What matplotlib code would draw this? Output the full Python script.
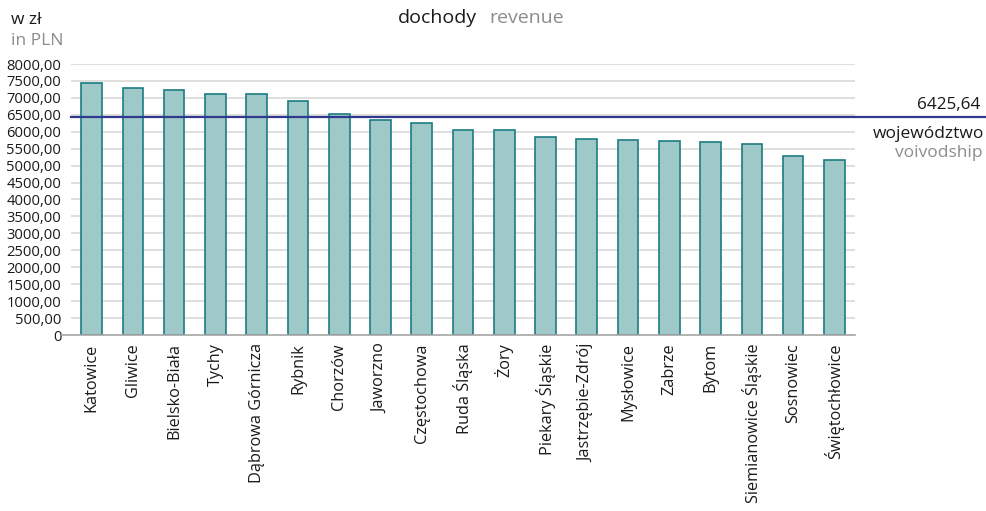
import matplotlib
matplotlib.use("Agg")
import matplotlib.pyplot as plt
from matplotlib.lines import Line2D
from matplotlib.ticker import FixedLocator

plt.rcParams['font.family'] = ['Open Sans', 'DejaVu Sans']

cities = ["Katowice", "Gliwice", "Bielsko-Biała", "Tychy", "Dąbrowa Górnicza", "Rybnik",
          "Chorzów", "Jaworzno", "Częstochowa", "Ruda Śląska", "Żory", "Piekary Śląskie",
          "Jastrzębie-Zdrój", "Mysłowice", "Zabrze", "Bytom", "Siemianowice Śląskie",
          "Sosnowiec", "Świętochłowice"]
revenue = [7430, 7283, 7232, 7124, 7114, 6908, 6524, 6347, 6258, 6061, 6052, 5835,
           5776, 5756, 5737, 5688, 5638, 5284, 5157]
voivodship_avg = 6425.64
y_ticks = [0, 500, 1000, 1500, 2000, 2500, 3000, 3500, 4000, 4500, 5000, 5500,
           6000, 6500, 7000, 7500, 8000]

W, H = 987, 511
fig = plt.figure(figsize=(W / 100, H / 100), dpi=100)
ax = fig.add_axes([71 / W, 1 - 335 / H, (855 - 71) / W, (335 - 64) / H])

x = list(range(len(cities)))
ax.bar(x, revenue, width=0.5, color="#9fc9c9", edgecolor="#1b7b82", linewidth=1.2, zorder=3)

ax.set_xlim(-0.5, len(cities) - 0.5)
ax.set_ylim(0, 8000)
ax.yaxis.set_major_locator(FixedLocator(y_ticks))
ax.set_yticklabels(["0" if v == 0 else f"{v},00" for v in y_ticks], fontsize=10.6, color="#1a1a1a")
ax.set_xticks(x)
ax.set_xticklabels(cities, rotation=90, fontsize=11.7, color="#1a1a1a")
ax.tick_params(axis="x", length=0, pad=6)
ax.tick_params(axis="y", length=0, pad=7)

for v in y_ticks[1:]:
    ax.axhline(v, color="#d9d9d9", linewidth=1.2, zorder=1)
for s in ax.spines.values():
    s.set_visible(False)

# baseline extending left past the axis
ax.add_line(Line2D([-9 / 784, 1], [0, 0], transform=ax.transAxes, color="#a6a6a6",
                   linewidth=1.2, clip_on=False, zorder=4))

# voivodship average line, extending to right edge of figure
ax.plot([-0.5, len(cities) - 0.5 + (987 - 855) / 41.26], [voivodship_avg, voivodship_avg],
        color="#2f3a8f", linewidth=1.6, clip_on=False, zorder=5)

fig.text(980 / W, 1 - 105 / H, "6425,64", ha="right", va="center",
         fontsize=12.3, color="#1a1a1a")
fig.text(984 / W, 1 - 134 / H, "województwo", ha="right", va="center", fontsize=12.5, color="#1a1a1a")
fig.text(983 / W, 1 - 153 / H, "voivodship", ha="right", va="center", fontsize=12.5, color="#8c8c8c")

fig.text(11 / W, 1 - 20 / H, "w zł", ha="left", va="center", fontsize=12.5, color="#1a1a1a")
fig.text(11 / W, 1 - 41 / H, "in PLN", ha="left", va="center", fontsize=12.5, color="#8c8c8c")

fig.text(477 / W, 1 - 18 / H, "dochody", ha="right", va="center", fontsize=14, color="#1a1a1a")
fig.text(489 / W, 1 - 18 / H, "revenue", ha="left", va="center", fontsize=14, color="#8c8c8c")

fig.savefig("out.png", dpi=100)
